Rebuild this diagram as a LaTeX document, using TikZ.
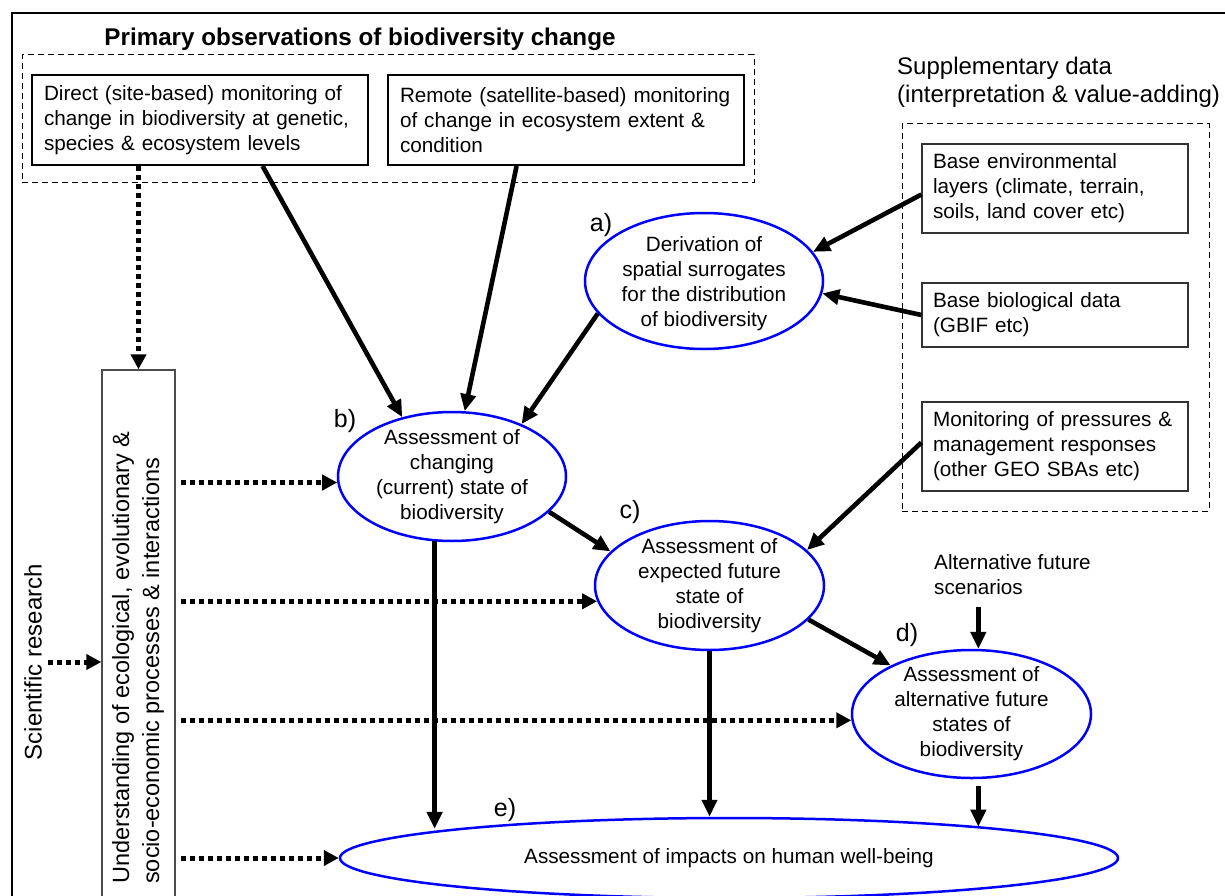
\documentclass[tikz,border=0pt]{standalone}
\usepackage{fontspec}
\setmainfont{Liberation Sans}
\usetikzlibrary{arrows.meta,shapes.geometric,calc}
\begin{document}
\begin{tikzpicture}[x=1pt,y=-1pt,
  every node/.style={font=\fontsize{20.7}{25}\selectfont, inner sep=0pt},
  obsbox/.style={draw=black, line width=2pt, rectangle, align=left, inner xsep=12pt},
  suppbox/.style={draw=black!80, line width=1.2pt, rectangle, align=left, inner xsep=11pt, text width=244pt},
  grpbox/.style={draw=black, line width=1pt, dash pattern=on 6pt off 4pt, rectangle},
  ell/.style={draw=blue, line width=2.5pt, ellipse, inner sep=0pt},
  etext/.style={align=center},
  tag/.style={font=\fontsize{25}{28}\selectfont},
  arr/.style={line width=4.6pt, -{Triangle[length=17pt,width=15pt]}},
  dotarr/.style={line width=5pt, dash pattern=on 5pt off 4pt, -{Triangle[length=15pt,width=15pt]}},
]
\useasboundingbox (0,0) rectangle (1225,896);
\clip (0,0) rectangle (1225,896);

% outer frame
\draw[line width=2.5pt] (12,910) -- (12,13) -- (1240,13);

% primary observations
\node[font=\bfseries\fontsize{24.2}{28}\selectfont, anchor=base] (title) at (360,46) {Primary observations of biodiversity change};
\node[grpbox, minimum width=732pt, minimum height=128pt] (primgrp) at (388,119) {};
\node[obsbox, text width=312pt, minimum height=90pt] (direct) at (200,120)
  {Direct (site-based) monitoring of\\change in biodiversity at genetic,\\species \& ecosystem levels};
\node[obsbox, text width=332pt, minimum height=90pt] (remote) at (566,120)
  {Remote (satellite-based) monitoring\\of change in ecosystem extent \&\\condition};

% supplementary data
\node[font=\fontsize{24}{28}\selectfont, align=left, anchor=west] (supp) at (897,82)
  {Supplementary data\\(interpretation \& value-adding)};
\node[grpbox, minimum width=307pt, minimum height=387pt] (suppgrp) at (1055.5,317.5) {};
\node[suppbox, minimum height=89pt] (env) at (1055,188.5)
  {Base environmental\\layers (climate, terrain,\\soils, land cover etc)};
\node[suppbox, minimum height=64pt] (bio) at (1055,315)
  {Base biological data\\(GBIF etc)};
\node[suppbox, minimum height=89pt] (mon) at (1055,446.5)
  {Monitoring of pressures \&\\management responses\\(other GEO SBAs etc)};

\node[align=left, anchor=west] (alt) at (934,574.5) {Alternative future\\scenarios};

% ellipses
\node[ell, minimum width=238pt, minimum height=136pt] (a) at (704,281) {};
\node[etext] (atext) at ([yshift=-3pt]a.center) {Derivation of\\spatial surrogates\\for the distribution\\of biodiversity};
\node[ell, minimum width=228pt, minimum height=129pt] (b) at (452,476.5) {};
\node[etext] (btext) at (b.center) {Assessment of\\changing\\(current) state of\\biodiversity};
\node[ell, minimum width=229pt, minimum height=129pt] (c) at (709.5,585.5) {};
\node[etext] (ctext) at (c.center) {Assessment of\\expected future\\state of\\biodiversity};
\node[ell, minimum width=239pt, minimum height=128pt] (d) at (971.5,714) {};
\node[etext] (dtext) at (d.center) {Assessment of\\alternative future\\states of\\biodiversity};
\node[ell, minimum width=778pt, minimum height=80pt] (e) at (729,858) {};
\node[etext] (etext) at (e.center) {Assessment of impacts on human well-being};

% tags
\node[tag] (ta) at (601,225) {a)};
\node[tag] (tb) at (345,421) {b)};
\node[tag] (tc) at (630,512) {c)};
\node[tag] (td) at (907,635) {d)};
\node[tag] (te) at (505,810) {e)};

% left side
\node[rotate=90, font=\fontsize{24}{28}\selectfont] (sci) at (33,662) {Scientific research};
\node[draw=black!70, line width=1.3pt, minimum width=73pt, minimum height=560pt] (und) at (138.5,650) {};
\node[rotate=90, anchor=north west, align=left, font=\fontsize{23.5}{30}\selectfont] (undtext) at (112,884)
  {Understanding of ecological, evolutionary \&\\socio-economic processes \& interactions};

% dotted connectors
\draw[dotarr] (und.north |- direct.south) -- (und.north);
\draw[dotarr, shorten <=6pt] (sci.south) -- (sci.south -| und.west);
\draw[dotarr, shorten <=5pt] (und.east |- b.183) -- (b.183);
\draw[dotarr, shorten <=5pt] (und.east |- c.188) -- (c.188);
\draw[dotarr, shorten <=5pt] (und.east |- d.183) -- (d.183);
\draw[dotarr, shorten <=5pt] (und.east |- e.west) -- (e.west);

% solid connectors
\draw[arr] ($(direct.south west)!0.685!(direct.south east)$) -- (b.130);
\draw[arr] ($(remote.south west)!0.362!(remote.south east)$) -- (b.79);
\draw[arr] (a.197) -- (b.37);
\draw[arr] ([yshift=-6pt]env.west) -- (a.15);
\draw[arr] (bio.west) -- (a.354);
\draw[arr] ([yshift=4pt]mon.west) -- (c.20);
\draw[arr] (b.340) -- (c.161);
\draw[arr] (c.341) -- (d.149);
\draw[arr, shorten <=12pt] (d.84 |- alt.south) -- (d.84);
\draw[arr] (b.255) -- (b.255 |- e.174);
\draw[arr] (c.south) -- (c.south |- e.north);
\draw[arr, shorten <=7pt] (d.276) -- (d.276 |- e.7);
\end{tikzpicture}
\end{document}
